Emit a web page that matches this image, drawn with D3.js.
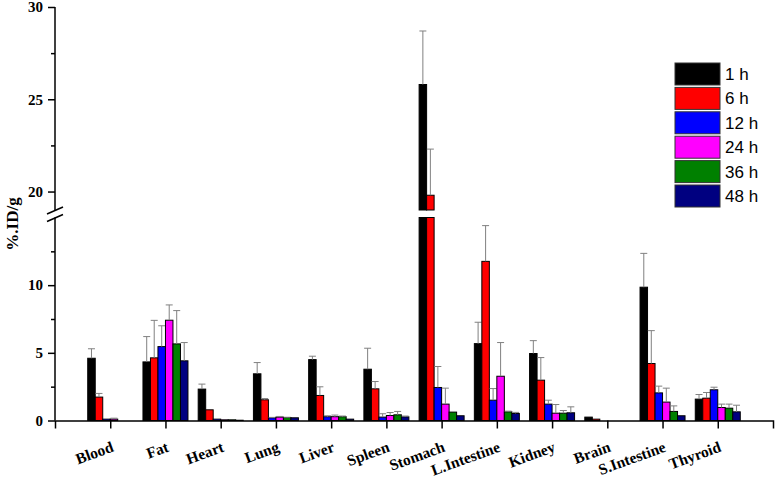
<!DOCTYPE html>
<html>
<head>
<meta charset="utf-8">
<script src="https://cdn.jsdelivr.net/npm/d3@7"></script>
<style>
  body { margin: 0; background: #fff; }
  .tk text { font-family: "Liberation Serif", "Times New Roman", serif; font-weight: bold; font-size: 15px; fill: #000; }
</style>
</head>
<body>
<div id="chart"></div>
<script>
// data
var organs = ["Blood", "Fat", "Heart", "Lung", "Liver", "Spleen", "Stomach", "L.Intestine", "Kidney", "Brain", "S.Intestine", "Thyroid"];
var times = ["1 h", "6 h", "12 h", "24 h", "36 h", "48 h"];
var colors = ["#000000", "#ff0000", "#0000ff", "#ff00ff", "#008000", "#000080"];

var h1  = [4.6, 4.33, 2.32, 3.45, 4.5, 3.79, 25.8, 5.68, 4.95, 0.25, 9.85, 1.58];
var h6  = [1.73, 4.63, 0.79, 1.53, 1.85, 2.34, 19.8, 11.76, 2.98, 0.1, 4.21, 1.65];
var h12 = [0.1, 5.46, 0.1, 0.2, 0.28, 0.25, 2.44, 1.5, 1.21, 0, 2.04, 2.27];
var h24 = [0.1, 7.41, 0.05, 0.25, 0.28, 0.37, 1.21, 3.27, 0.54, 0, 1.36, 0.96];
var h36 = [0, 5.66, 0.05, 0.22, 0.28, 0.42, 0.62, 0.64, 0.54, 0, 0.67, 0.91];
var h48 = [0, 4.41, 0.02, 0.2, 0.1, 0.27, 0.35, 0.52, 0.57, 0, 0.35, 0.64];

var sd1  = [0.7, 1.87, 0.37, 0.83, 0.25, 1.55, 2.9, 1.58, 0.95, 0, 2.5, 0.34];
var sd6  = [0.27, 2.77, 0, 0.09, 0.64, 0.54, 2.5, 2.64, 1.67, 0, 2.43, 0.42];
var sd12 = [0, 1.54, 0, 0.03, 0.07, 0.25, 1.55, 0.86, 0.29, 0, 0.5, 0.19];
var sd24 = [0.07, 1.13, 0, 0.05, 0.12, 0.22, 1.18, 2.49, 0.64, 0, 1.03, 0.25];
var sd36 = [0, 2.46, 0, 0.02, 0.05, 0.25, 0, 0.05, 0.2, 0, 0.41, 0.3];
var sd48 = [0, 1.35, 0, 0, 0, 0.06, 0, 0.08, 0.44, 0, 0, 0.49];

var lowTicks = [0, 5, 10];
var lowMinor = [2.5, 7.5, 12.5];
var highTicks = [20, 25, 30];
var highMinor = [22.5, 27.5];

var series = [h1, h6, h12, h24, h36, h48];
var errors = [sd1, sd6, sd12, sd24, sd36, sd48];

const width = 776, height = 478;
const axisX = 55, axisRight = 773;
const breakLow = 15, breakHigh = 19;

const svg = d3.select("#chart")
    .append("svg")
    .attr("width", width)
    .attr("height", height);

const x = d3.scalePoint()
    .domain(organs)
    .range([axisX, axisRight])
    .padding(1);

const yLow = d3.scaleLinear().domain([0, breakLow]).range([420.5, 217.5]);
const yHigh = d3.scaleLinear().domain([breakHigh, 30]).range([210, 7]);

const barW = 7.5;

// y value -> pixel on the broken axis
function yPos(v) {
    return v <= breakLow ? yLow(v) : yHigh(v);
}

// bars
series.forEach((vals, s) => {
    const g = svg.append("g");
    vals.forEach((v, i) => {
        if (v <= 0) return;
        const bx = x(organs[i]) - 3 * barW + s * barW;
        const parts = v > breakLow
            ? [[yLow(breakLow), yLow(0)], [yHigh(v), yHigh(breakHigh)]]
            : [[yLow(v), yLow(0)]];
        parts.forEach(p => {
            g.append("rect")
                .attr("x", bx)
                .attr("y", p[0])
                .attr("width", barW)
                .attr("height", p[1] - p[0])
                .attr("fill", colors[s])
                .attr("stroke", "#000")
                .attr("stroke-width", 1);
        });
        const e = errors[s][i];
        if (e > 0) {
            const cx = bx + barW / 2;
            const yt = yPos(v + e), yb = yPos(v);
            g.append("line").attr("x1", cx).attr("x2", cx).attr("y1", yt).attr("y2", yb)
                .attr("stroke", "#808080").attr("stroke-width", 1);
            g.append("line").attr("x1", cx - 3.5).attr("x2", cx + 3.5).attr("y1", yt).attr("y2", yt)
                .attr("stroke", "#808080").attr("stroke-width", 1);
        }
    });
});

// x axis
const xAxis = svg.append("g")
    .attr("class", "tk")
    .attr("transform", `translate(0,${yLow(0)})`)
    .call(d3.axisBottom(x).tickSize(8).tickSizeOuter(8));
xAxis.select(".domain").attr("stroke-width", 1.5);
xAxis.selectAll(".tick line").attr("stroke-width", 1.5);
xAxis.selectAll(".tick text")
    .attr("x", 4)
    .attr("y", 0)
    .attr("dy", null)
    .attr("transform", "translate(0,32) rotate(-20)")
    .style("text-anchor", "end")
    .style("font-size", "15.5px");

// y axis, two pieces
function yPiece(scale, major, minor) {
    const g = svg.append("g").attr("class", "tk").attr("transform", `translate(${axisX},0)`);
    g.call(d3.axisLeft(scale).tickValues(major).tickSize(7).tickPadding(5).tickFormat(d3.format("d")));
    g.select(".domain").attr("stroke-width", 1.5).attr("d", `M0,${scale.range()[0]}V${scale.range()[1]}`);
    g.selectAll(".tick line").attr("stroke-width", 1.5);
    const m = svg.append("g").attr("transform", `translate(${axisX},0)`);
    m.call(d3.axisLeft(scale).tickValues(minor).tickSize(4).tickFormat(""));
    m.select(".domain").remove();
    m.selectAll(".tick line").attr("stroke-width", 1.5);
}
yPiece(yLow, lowTicks, lowMinor);
yPiece(yHigh, highTicks, highMinor);

// break marks
[yHigh(breakHigh), yLow(breakLow)].forEach(yy => {
    svg.append("line")
        .attr("x1", axisX - 8).attr("x2", axisX + 8)
        .attr("y1", yy + 4).attr("y2", yy - 3)
        .attr("stroke", "#000").attr("stroke-width", 1.5);
});

// y label
svg.append("text")
    .attr("transform", "translate(18,224) rotate(-90)")
    .attr("text-anchor", "middle")
    .style("font-family", "'Liberation Serif', 'Times New Roman', serif")
    .style("font-weight", "bold")
    .style("font-size", "17px")
    .text("%.ID/g");

// legend
const legend = svg.selectAll(".legend")
    .data(times)
    .enter().append("g")
    .attr("class", "legend")
    .attr("transform", (d, i) => `translate(675,${63 + i * 24.4})`);

legend.append("rect")
    .attr("width", 45)
    .attr("height", 22)
    .attr("fill", (d, i) => colors[i])
    .attr("stroke", "#333")
    .attr("stroke-width", 1);

legend.append("text")
    .attr("x", 50)
    .attr("y", 11)
    .attr("dy", ".35em")
    .style("font-family", "'Liberation Sans', Arial, sans-serif")
    .style("font-size", "17px")
    .text(d => d);
</script>
</body>
</html>
